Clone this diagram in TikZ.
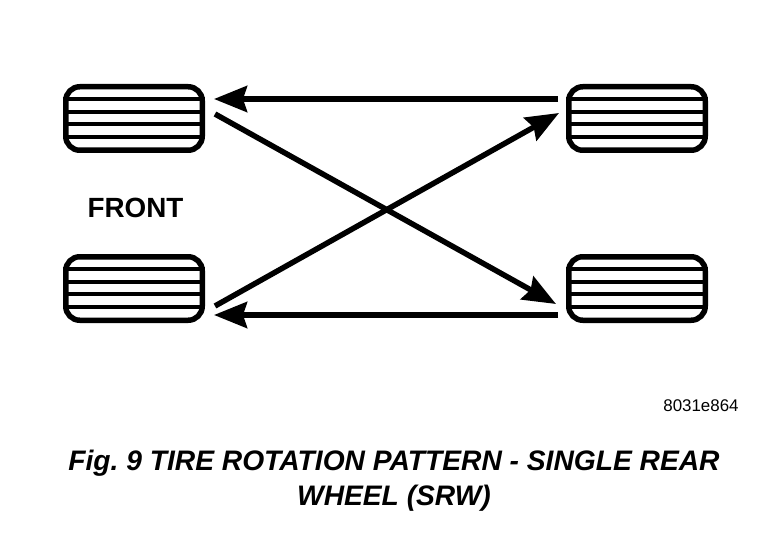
\documentclass[tikz,border=0pt]{standalone}
\usepackage{fontspec}
\setmainfont{Liberation Sans}
\usetikzlibrary{arrows.meta, positioning}
\tikzset{
    tire/.style={draw, line width=5.5pt, rounded corners=14pt, minimum width=136.5pt, minimum height=63.5pt, inner sep=0pt},
    tread/.style={line width=3.4pt},
    movearrow/.style={line width=5.5pt, -{Stealth[length=33pt, width=26pt, inset=4pt]}}
}

\begin{document}
\begin{tikzpicture}[x=1pt,y=-1pt]
        \useasboundingbox (0,0) rectangle (768,540);

        % Banden
        \node[tire] (frontleft) at (134,118.5) {};
        \node[tire, right=361pt of frontleft] (backleft) {};
        \node[tire] (frontright) at (134,288.5) {};
        \node[tire, right=361pt of frontright] (backright) {};

        % Profiel
        \foreach \wheel in {frontleft, backleft, frontright, backright} {
            \foreach \off in {-19.5, -6.5, 5.5, 18.5} {
                \draw[tread] ([yshift=-\off pt]\wheel.west) -- ([yshift=-\off pt]\wheel.east);
            }
        }

        % Eindpunten van de pijlen
        \coordinate (flin) at (214,99);
        \coordinate (flout) at (215,114);
        \coordinate (blout) at (558,99);
        \coordinate (blin) at (559,113);
        \coordinate (frout) at (215,306);
        \coordinate (frin) at (214,315);
        \coordinate (brin) at (556,304);
        \coordinate (brout) at (558,315);

        % Pijlen
        \draw[movearrow] (blout) -- (flin);
        \draw[movearrow] (brout) -- (frin);
        \draw[movearrow] (flout) -- (brin);
        \draw[movearrow] (frout) -- (blin);

        % Teksten
        \node[font=\bfseries\fontsize{27.8}{27.8}\selectfont] (front) at (135.5,208) {FRONT};
        \node[font=\fontsize{16.9}{17}\selectfont] (code) at (701,406) {8031e864};
        \node[font=\bfseries\itshape\fontsize{28.2}{35}\selectfont, align=center] (caption) at (394,481)
            {Fig.\ 9 TIRE ROTATION PATTERN - SINGLE REAR\\WHEEL (SRW)};

    \end{tikzpicture}
\end{document}
